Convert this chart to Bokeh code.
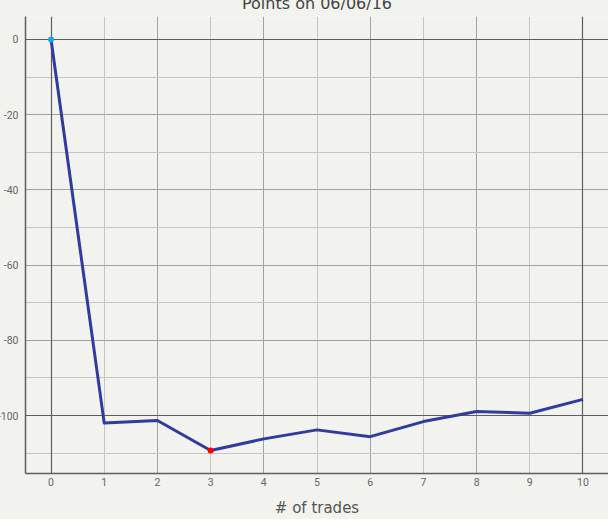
import numpy as np
from bokeh.plotting import figure
from bokeh.models import FixedTicker, Grid, Range1d, PrintfTickFormatter
from bokeh.embed import file_html
from bokeh.resources import INLINE

# ---- data ----
trades = [0, 1, 2, 3, 4, 5, 6, 7, 8, 9, 10]
points = [0.0, -102.0, -101.3, -109.3, -106.2, -103.8, -105.6, -101.6, -98.9, -99.4, -95.7]
x_ticks = [0, 1, 2, 3, 4, 5, 6, 7, 8, 9, 10]
y_ticks = [0, -20, -40, -60, -80, -100]
y_minor = [-10, -30, -50, -70, -90, -110]
x_major_grid = [2, 4, 6, 8]
x_minor_grid = [1, 3, 5, 7, 9]
dark_x = [0, 10]
dark_y = [0, -100]
title_text = "Points on 06/06/16"
x_label = "# of trades"

BG = "#f2f2ee"
DARK = "#5e5e5e"
MED = "#a2a2a0"
LIGHT = "#c6c6c2"
LINE = "#2f3c9e"
TXT = "#666666"

p = figure(width=614, height=532, output_backend="svg", toolbar_location=None,
           title=title_text,
           x_range=Range1d(-0.48, 10.48), y_range=Range1d(-115.4, 6.1),
           background_fill_color=BG, border_fill_color=BG,
           min_border_left=0, min_border_right=0, min_border_top=0,
           min_border_bottom=46, outline_line_color=None)
p.margin = (-13, 0, 0, -6)

p.title.align = "center"
p.title.text_font = "DejaVu Sans"
p.title.text_font_size = "16px"
p.title.text_font_style = "normal"
p.title.text_color = "#444444"
p.title.standoff = 8

# axes
p.xaxis.ticker = FixedTicker(ticks=x_ticks)
p.yaxis.ticker = FixedTicker(ticks=y_ticks)
p.yaxis.formatter = PrintfTickFormatter(format="%d")
for ax in (p.xaxis[0], p.yaxis[0]):
    ax.major_tick_out = 0
    ax.major_tick_in = 0
    ax.minor_tick_out = 0
    ax.minor_tick_in = 0
    ax.axis_line_color = DARK
    ax.axis_line_width = 1.5
    ax.major_label_text_color = TXT
    ax.major_label_text_font = "Roboto"
    ax.major_label_text_font_size = "10.5px"
p.yaxis.major_label_standoff = 7
p.xaxis.major_label_standoff = 4
p.xaxis.axis_label = x_label
p.xaxis.axis_label_text_font = "DejaVu Sans"
p.xaxis.axis_label_text_font_size = "15px"
p.xaxis.axis_label_text_font_style = "normal"
p.xaxis.axis_label_text_color = "#555555"
p.xaxis.axis_label_standoff = 10

# grids
p.xgrid.ticker = FixedTicker(ticks=x_major_grid, minor_ticks=x_minor_grid)
p.xgrid.grid_line_color = MED
p.xgrid.minor_grid_line_color = LIGHT
p.ygrid.ticker = FixedTicker(ticks=y_ticks, minor_ticks=y_minor)
p.ygrid.grid_line_color = MED
p.ygrid.minor_grid_line_color = LIGHT
p.add_layout(Grid(dimension=0, ticker=FixedTicker(ticks=dark_x), grid_line_color=DARK, grid_line_width=1.2))
p.add_layout(Grid(dimension=1, ticker=FixedTicker(ticks=dark_y), grid_line_color=DARK, grid_line_width=1.2))

# series
p.line(trades, points, line_width=3, line_color=LINE, line_join="round")
imin = int(np.argmin(points))
p.scatter([trades[0]], [points[0]], size=6, marker="circle", fill_color="#1aa6ea", line_color=None)
p.scatter([trades[imin]], [points[imin]], size=6, marker="circle", fill_color="#ff0000", line_color=None)

open("out.html", "w").write(file_html(p, INLINE))
